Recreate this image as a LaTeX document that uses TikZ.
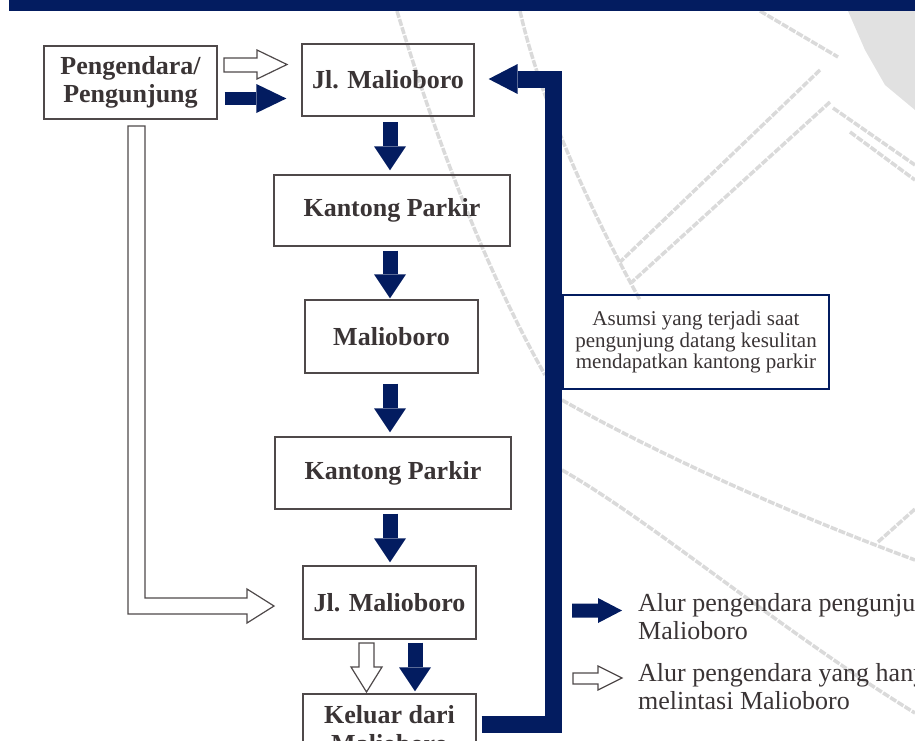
\documentclass[tikz,border=0pt]{standalone}
\usepackage{fontspec}
\setmainfont{Liberation Serif}
\usetikzlibrary{arrows.meta,calc}
\definecolor{navy}{HTML}{031C60}
\definecolor{txt}{HTML}{3A3435}
\definecolor{boxln}{HTML}{4F494A}
\definecolor{wm}{HTML}{DADADA}
\begin{document}
\begin{tikzpicture}[x=1pt,y=-1pt,
  box/.style={draw=boxln,line width=1.3pt,inner sep=0pt,text=txt,
    font=\fontsize{26}{28}\selectfont\bfseries,align=center},
  boldlbl/.style={inner sep=0pt,text=txt,font=\fontsize{26}{28}\selectfont\bfseries},
  lgd/.style={inner sep=0pt,text=txt,font=\fontsize{26}{28}\selectfont},
  bluev/.style={draw=navy,line width=15pt,-{Triangle[width=32pt,length=24pt,line width=0pt]}},
  blueh/.style={draw=navy,line width=13pt,-{Triangle[width=29pt,length=30pt,line width=0pt]}},
  whitearr/.style={draw=boxln,line width=1.2pt,fill=white,line join=miter},
  wmline/.style={draw=wm,line width=3.5pt,dash pattern=on 7pt off 1.5pt}]
\useasboundingbox (0,0) rectangle (915,740);
\clip (0,0) rectangle (915,740);

% watermark
\draw[wmline] (397,11) .. controls (430,120) and (480,260) .. (545,375);
\draw[wmline] (562,400) .. controls (650,450) and (780,510) .. (915,560);
\draw[wmline] (520,11) .. controls (540,100) and (590,210) .. (640,300);
\draw[wmline] (820,70) -- (620,262);
\draw[wmline] (830,102) -- (632,282);
\draw[wmline] (833,108) -- (915,165);
\draw[wmline] (850,132) -- (915,180);
\draw[wmline] (760,11) -- (838,57);
\draw[wmline] (562,470) .. controls (650,520) and (780,630) .. (915,713);
\draw[wmline] (878,542) -- (915,509);
\fill[wm,opacity=0.8] (848,11) -- (915,11) -- (915,110) -- (885,85) -- (865,50) -- cycle;

% top bar
\fill[navy] (9,0) rectangle (915,11);

% boxes
\node[box,minimum width=173pt,minimum height=73pt] (pen) at (130.5,82.5) {Pengendara/\\Pengunjung};
\node[box,minimum width=172pt,minimum height=72pt] (jm1) at (388,80) {Jl. Malioboro};
\node[box,minimum width=236pt,minimum height=71pt] (kp1) at (392,210.5) {Kantong Parkir};
\node[box,minimum width=173pt,minimum height=73pt] (mal) at (391.5,336.5) {Malioboro};
\node[box,minimum width=236pt,minimum height=72pt] (kp2) at (393,473) {Kantong Parkir};
\node[box,minimum width=173pt,minimum height=73pt] (jm2) at (389.5,602.5) {Jl. Malioboro};
\node[box,minimum width=173pt,minimum height=73pt] (kel) at (389.5,730.5) {};
\node[boldlbl,anchor=base] (kelA) at (389.5,723) {Keluar dari};
\node[boldlbl,anchor=base] (kelB) at (389.5,752) {Malioboro};

\node[draw=navy,line width=1.2pt,minimum width=266pt,minimum height=94pt,inner sep=0pt,
  align=center,text=txt,font=\fontsize{21}{21.5}\selectfont] (asm) at (696,342)
  {Asumsi yang terjadi saat\\pengunjung datang kesulitan\\mendapatkan kantong parkir};

% blue flow arrows
\draw[blueh] ($(pen.east)+(7,16)$) -- ($(jm1.west)+(-15,18.5)$);
\draw[bluev] ($(jm1.south)+(2,5.5)$) -- ($(kp1.north)+(-2,-4)$);
\draw[bluev] ($(kp1.south)+(-2,4)$) -- ($(mal.north)+(-1.5,-1)$);
\draw[bluev] ($(mal.south)+(-1.5,10)$) -- ($(kp2.north)+(-3,-4)$);
\draw[bluev] ($(kp2.south)+(-3,4)$) -- ($(jm2.north)+(0.5,-3)$);
\draw[bluev] ($(jm2.south)+(25.5,3)$) -- ($(kel.north)+(25.5,-2)$);

% return path
\draw[navy,line width=17pt,line join=miter,-{Triangle[width=30pt,length=29pt,line width=0pt]}]
  ($(kel.east)+(5,-6)$) -- ++(72,0) |- ($(jm1.east)+(14,-1)$);

% white (hollow) arrows
\draw[whitearr] (224,58) -- (257,58) -- (257,50) -- (287,64.5) -- (257,79) -- (257,72) -- (224,72) -- cycle;
\draw[whitearr] (128,126) -- (145,126) -- (145,598) -- (247,598) -- (247,589) -- (274,606)
  -- (247,623) -- (247,614) -- (128,614) -- cycle;
\draw[whitearr] (359,643) -- (374,643) -- (374,667) -- (382,667) -- (366.5,692) -- (351,667) -- (359,667) -- cycle;

% legend
\fill[navy] (572,603.5) -- (598,603.5) -- (598,598) -- (622,610.5) -- (598,623) -- (598,617.5) -- (572,617.5) -- cycle;
\draw[whitearr] (573,673) -- (598,673) -- (598,666) -- (622,678) -- (598,690) -- (598,684) -- (573,684) -- cycle;
\node[lgd,anchor=base west] (l1a) at (638,611) {Alur pengendara pengunjung};
\node[lgd,anchor=base west] (l1b) at (638,639) {Malioboro};
\node[lgd,anchor=base west] (l2a) at (638,681) {Alur pengendara yang hanya};
\node[lgd,anchor=base west] (l2b) at (638,709) {melintasi Malioboro};
\end{tikzpicture}
\end{document}
